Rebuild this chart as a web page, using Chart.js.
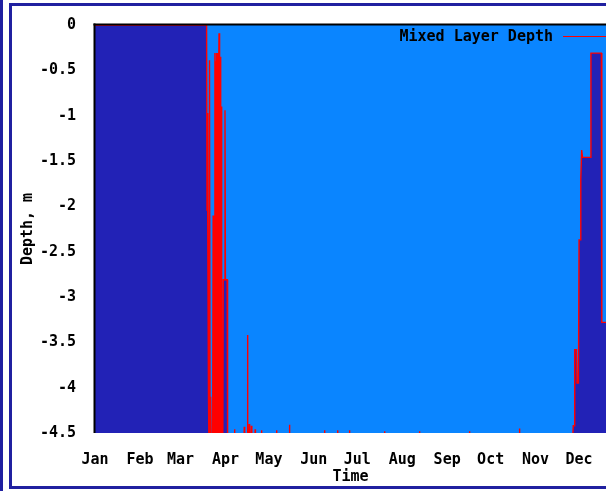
<!DOCTYPE html>
<html><head><meta charset="utf-8">
<script src="https://cdn.jsdelivr.net/npm/chart.js@4"></script>
<style>html,body{margin:0;padding:0;background:#fff;overflow:hidden}#wrap{width:606px;height:491px;position:relative}</style>
</head><body><div id="wrap"><canvas id="c" width="606" height="491"></canvas></div>
<script>
// ---- data ----
const monthLabels = ['Jan','Feb','Mar','Apr','May','Jun','Jul','Aug','Sep','Oct','Nov','Dec'];
const monthStartDays = [0,31,59,90,120,151,181,212,243,273,304,334];
const yTicks = [0,-0.5,-1,-1.5,-2,-2.5,-3,-3.5,-4,-4.5];
const seriesName = 'Mixed Layer Depth';
// day of year
const days = [
  0, 77.0, 77.3, 77.6, 77.9, 78.3, 78.6, 79.0, 79.4, 79.8, 80.2, 81.2, 81.5, 81.8,
  82.5, 82.75, 83.0, 83.25, 83.5, 83.75, 84.0, 84.25, 84.5, 84.75, 85.0, 85.25, 85.6, 85.85,
  86.1, 86.35, 86.6, 86.85, 87.1, 87.4,
  88.2, 88.5, 89.4, 89.7, 90.0, 91.2, 91.5,
  96.1, 96.3, 96.5, 102.8, 103.0, 103.3, 104.9, 105.2, 105.5, 106.2, 106.4, 106.7,
  107.6, 107.9, 108.2, 110.3, 110.5, 110.7, 114.7, 114.9, 115.1, 125.1, 125.3, 125.5,
  134.0, 134.2, 134.4, 158.2, 158.4, 158.6, 167.2, 167.4, 167.6, 175.4, 175.6, 175.8,
  199.6, 199.8, 200.0, 223.7, 223.9, 224.1, 258.2, 258.4, 258.6, 292.7, 292.9, 293.1,
  329.5, 330.0, 330.8, 331.0, 332.2, 332.6, 333.6, 334.0, 334.8, 335.2, 335.8, 336.4,
  342.0, 342.2, 349.4, 349.7, 352.6
];
// depth, m
const depth = [
  0, 0, -2.04, -0.97, -2.04, -4.1, -4.6, -0.39, -4.6, -4.1, -4.6, -4.6, -2.1, -4.6,
  -4.6, -0.31, -4.6, -0.4, -4.6, -0.31, -4.6, -0.45, -4.6, -0.31, -4.6, -0.6, -0.09, -4.6,
  -0.31, -4.6, -0.35, -4.6, -0.9, -4.6,
  -4.6, -2.81, -2.81, -0.94, -2.81, -2.81, -4.6,
  -4.6, -4.46, -4.6, -4.6, -4.43, -4.6, -4.6, -3.42, -4.6, -4.6, -4.40, -4.6,
  -4.6, -4.42, -4.6, -4.6, -4.46, -4.6, -4.6, -4.47, -4.6, -4.6, -4.47, -4.6,
  -4.6, -4.41, -4.6, -4.6, -4.47, -4.6, -4.6, -4.47, -4.6, -4.6, -4.47, -4.6,
  -4.6, -4.48, -4.6, -4.6, -4.48, -4.6, -4.6, -4.48, -4.6, -4.6, -4.45, -4.6,
  -4.6, -4.42, -4.42, -3.58, -3.58, -3.95, -3.95, -2.37, -2.37, -1.70, -1.38, -1.46,
  -1.46, -0.31, -0.31, -3.28, -3.28
];

// ---- styles ----
const NAVY = '#2020a0';
const DARK = '#2222b6';
const LIGHT = '#0a85ff';
const RED = '#ff0000';
const FONT = {family: '"DejaVu Sans Mono", monospace', size: 15, weight: 'bold', lineHeight: 1.2};

const framePlugin = {
  id: 'frame',
  beforeDraw(chart) {
    const {ctx, chartArea: a} = chart;
    ctx.save();
    ctx.fillStyle = '#fff';
    ctx.fillRect(0, 0, chart.width, chart.height);
    ctx.fillStyle = NAVY;
    ctx.fillRect(0, 0, 3, chart.height);
    ctx.fillRect(9, 3, 3, 486);
    ctx.fillRect(9, 3, chart.width - 9, 3);
    ctx.fillRect(9, 486, chart.width - 9, 3);
    ctx.fillStyle = LIGHT;
    ctx.fillRect(a.left, a.top, a.right - a.left, a.bottom - a.top);
    ctx.restore();
  },
  afterDatasetsDraw(chart) {
    const {ctx, chartArea: a} = chart;
    ctx.save();
    ctx.fillStyle = '#000';
    ctx.fillRect(a.left - 1.5, a.top - 1.5, a.right - a.left + 1.5, 2);
    ctx.fillRect(a.left - 1.5, a.top - 1.5, 2, a.bottom - a.top + 1.5);
    ctx.restore();
  },
  afterDraw(chart) {
    const {ctx, chartArea: a} = chart;
    ctx.save();
    ctx.font = 'bold 15px "DejaVu Sans Mono", monospace';
    ctx.fillStyle = '#000';
    ctx.textAlign = 'right';
    ctx.textBaseline = 'middle';
    ctx.fillText(seriesName, 553, 37);
    ctx.strokeStyle = RED;
    ctx.lineWidth = 1.2;
    ctx.beginPath();
    ctx.moveTo(563, 36.5);
    ctx.lineTo(a.right, 36.5);
    ctx.stroke();
    ctx.restore();
  }
};

new Chart(document.getElementById('c'), {
  type: 'line',
  data: {
    datasets: [{
      label: seriesName,
      data: days.map((d, i) => ({x: d, y: depth[i]})),
      borderColor: RED,
      borderWidth: 1.4,
      backgroundColor: DARK,
      fill: 'start',
      pointRadius: 0,
      tension: 0,
      clip: 0
    }]
  },
  options: {
    responsive: false,
    animation: false,
    devicePixelRatio: 1,
    layout: {padding: {left: 12, top: 25, right: 0, bottom: 5}},
    plugins: {legend: {display: false}, tooltip: {enabled: false}},
    scales: {
      x: {
        type: 'linear', min: 0, max: 352.6,
        grid: {display: false}, border: {display: false},
        afterBuildTicks(s) { s.ticks = monthStartDays.map(v => ({value: v})); },
        afterFit(s) { s.height = 53; },
        ticks: {autoSkip: false, maxRotation: 0, minRotation: 0, padding: 10, color: '#000', font: FONT,
          callback: v => monthLabels[monthStartDays.indexOf(v)]},
        title: {display: true, text: 'Time', color: '#000', font: FONT, padding: {top: 0, bottom: 0}}
      },
      y: {
        type: 'linear', min: -4.5, max: 0,
        grid: {display: false}, border: {display: false},
        afterBuildTicks(s) { s.ticks = yTicks.map(v => ({value: v})); },
        afterFit(s) { s.width = 83; },
        ticks: {padding: 11, color: '#000', font: FONT, callback: v => String(v)},
        title: {display: true, text: 'Depth, m', color: '#000', font: FONT, padding: {top: 7, bottom: 0}}
      }
    }
  },
  plugins: [framePlugin]
});
</script>
</body></html>
